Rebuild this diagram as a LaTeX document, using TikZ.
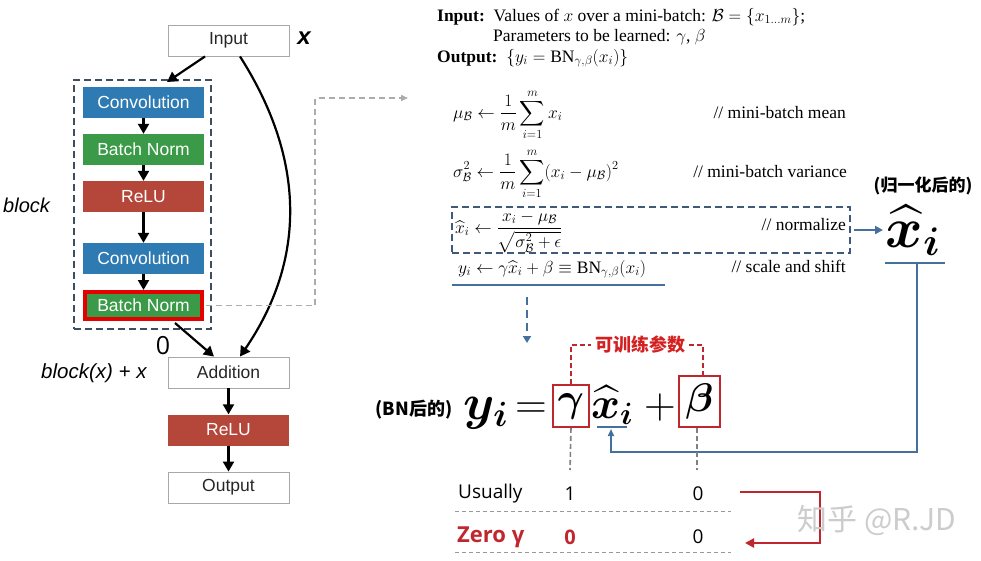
\documentclass[tikz,border=0pt]{standalone}
\usepackage{fix-cm}
\usepackage{fontspec}
\usepackage{amsmath,amssymb,bm}
\setmainfont{Liberation Serif}
\newfontfamily\hv{Liberation Sans}
\newfontfamily\osans{Open Sans}
\newfontfamily\cjk{Noto Sans CJK SC}
\usetikzlibrary{arrows.meta,calc}
\definecolor{convblue}{HTML}{2E7BB4}
\definecolor{bngreen}{HTML}{3A9A47}
\definecolor{relured}{HTML}{B4463A}
\definecolor{slate}{HTML}{3D4F5E}
\definecolor{steel}{HTML}{44709D}
\definecolor{normblue}{HTML}{3F5A78}
\definecolor{dkred}{HTML}{C0262D}
\definecolor{brred}{HTML}{D42020}
\definecolor{boxgray}{HTML}{A8A8A8}
\tikzset{
  wbox/.style={draw=boxgray, line width=0.9pt, minimum width=121pt, minimum height=31pt, inner sep=0pt, font=\hv\fontsize{17.5}{18}\selectfont, text=black!85},
  cbox/.style={fill=#1, minimum width=121pt, minimum height=31pt, inner sep=0pt, font=\hv\fontsize{17.5}{18}\selectfont, text=white},
  karr/.style={-{Triangle[length=10pt,width=11pt]}, line width=2.2pt, black},
  alg/.style={inner sep=0pt, font=\fontsize{17.5}{20}\selectfont},
  big/.style={inner sep=0pt, font=\fontsize{44}{46}\selectfont},
  rbox/.style={draw=dkred, line width=1.6pt, inner sep=0pt, font=\fontsize{40}{42}\selectfont},
  sarr/.style={steel, line width=2pt},
  gdash/.style={gray, line width=1.6pt, dash pattern=on 5pt off 3pt},
  rdash/.style={dkred, line width=1.6pt, dash pattern=on 5pt off 3pt},
  tdash/.style={gray!80, line width=0.8pt, dash pattern=on 4pt off 3pt},
  sanslab/.style={inner sep=0pt, font=\osans\fontsize{19}{20}\selectfont},
}
\begin{document}
\begin{tikzpicture}[x=1pt,y=-1pt]
\useasboundingbox (0,0) rectangle (981,560);

% ---------------- left network ----------------
\node[wbox] (input) at (228.5,40.5) {Input};
\node[inner sep=0pt, font=\hv\bfseries\itshape\fontsize{24}{24}\selectfont] (xlab) at (304,38) {x};

\node[draw=slate, line width=1.8pt, dash pattern=on 7pt off 4pt, minimum width=137pt, minimum height=249pt, inner sep=0pt] (blk) at (142.5,204.5) {};
\node[cbox=convblue] (conv1) at (143.5,102.5) {Convolution};
\node[cbox=bngreen] (bn1) at (143.5,149.5) {Batch Norm};
\node[cbox=relured] (relu1) at (143.5,196.5) {ReLU};
\node[cbox=convblue] (conv2) at (143.5,258.5) {Convolution};
\node[cbox=bngreen, draw=red!90!black, line width=4pt, minimum width=117pt, minimum height=27pt] (bn2) at (143.5,305.5) {Batch Norm};

\node[wbox] (add) at (228.5,372.5) {Addition};
\node[cbox=relured] (relu2) at (228.5,430) {ReLU};
\node[wbox] (output) at (228.5,487.5) {Output};

\node[inner sep=0pt, font=\hv\itshape\fontsize{20}{20}\selectfont, anchor=west] (blocklab) at (3,205) {block};
\node[inner sep=0pt, font=\hv\itshape\fontsize{20.5}{21}\selectfont, anchor=west] (bxlab) at (41,373) {block(x) + x};
\node[inner sep=0pt, font=\osans\fontsize{25}{25}\selectfont] (zero) at (163,346) {0};

\coordinate (btop) at (167,82);
\draw[karr] ($(input.south)+(-23.5,0)$) -- (btop);
\draw[karr] (conv1) -- (bn1);
\draw[karr] (bn1) -- (relu1);
\draw[karr] (relu1) -- (conv2);
\draw[karr] (conv2) -- (bn2);
\draw[karr] ($(bn2.south)+(31.5,2)$) -- ($(add.north)+(-14.5,0)$);
\draw[karr] ($(input.south)+(11.5,0)$) .. controls (306,160) and (306,260) .. ($(add.north)+(11.5,0)$);
\draw[karr] (add) -- (relu2);
\draw[karr] (relu2) -- (output);

% gray dashed link to algorithm
\coordinate (algin) at (408,98);
\draw[gray!65, line width=1.5pt, dash pattern=on 6pt off 4pt, -{Triangle[length=7pt,width=6pt]}] ($(bn2.east)+(2,0)$) -- (315,305.5) -- (315,98) -- (algin);

% ---------------- algorithm ----------------
\node[alg, anchor=base west] (inl) at (437,21) {\textbf{Input:}\ \ Values of $x$ over a mini-batch: $\mathcal{B}=\{x_{1\ldots m}\}$;};
\node[alg, anchor=base west] (par) at (493,41) {Parameters to be learned: $\gamma$, $\beta$};
\node[alg, anchor=base west] (outl) at (437,62) {\textbf{Output:}\ \ $\{y_i=\mathrm{BN}_{\gamma,\beta}(x_i)\}$};

\node[alg, anchor=base west] (mu) at (453,118) {$\displaystyle \mu_{\mathcal{B}}\leftarrow\frac{1}{m}\sum_{i=1}^{m}x_i$};
\node[alg, anchor=base east] (c1) at (846,118) {// mini-batch mean};
\node[alg, anchor=base west] (sig) at (453,177) {$\displaystyle \sigma_{\mathcal{B}}^2\leftarrow\frac{1}{m}\sum_{i=1}^{m}(x_i-\mu_{\mathcal{B}})^2$};
\node[alg, anchor=base east] (c2) at (847,177) {// mini-batch variance};
\node[alg, anchor=base west] (nor) at (455,233) {$\displaystyle \widehat{x}_i\leftarrow\frac{x_i-\mu_{\mathcal{B}}}{\sqrt{\sigma_{\mathcal{B}}^2+\epsilon}}$};
\node[alg, anchor=base east] (c3) at (846,230) {// normalize};
\node[alg, anchor=base west] (ysc) at (458,273) {$y_i\leftarrow\gamma\widehat{x}_i+\beta\equiv\mathrm{BN}_{\gamma,\beta}(x_i)$};
\node[alg, anchor=base east] (c4) at (846,272) {// scale and shift};

\node[draw=normblue, line width=1.6pt, dash pattern=on 7pt off 4pt, minimum width=398pt, minimum height=46pt, inner sep=0pt] (nbox) at (651,230) {};
\coordinate (ul1) at (452,285);
\coordinate (ul2) at (665,285);
\draw[sarr] (ul1) -- (ul2);
\coordinate (dtop) at (527,297);
\coordinate (dbot) at (527,343);
\draw[sarr, dash pattern=on 8pt off 5pt, -{Triangle[length=7pt,width=8pt]}] (dtop) -- (dbot);

% ---------------- normalized x ----------------
\node[inner sep=0pt, font=\fontsize{57}{57}\selectfont, anchor=base] (xh) at (913,247) {$\bm{\widehat{x}_i}$};
\node[inner sep=0pt, font=\cjk\bfseries\fontsize{17}{17}\selectfont] (normlab) at (923,186) {(归一化后的)};
\coordinate (xa) at (883,230);
\draw[sarr, -{Triangle[length=8pt,width=8pt]}] (nbox.east) ++(3,0) -- (xa);
\coordinate (xul1) at (885,263);
\coordinate (xul2) at (945,263);
\coordinate (xdrop) at (917,263);
\draw[sarr] (xul1) -- (xul2);

% ---------------- big formula ----------------
\node[inner sep=0pt, font=\cjk\bfseries\fontsize{18}{18}\selectfont] (bnlab) at (414,410) {(BN后的)};
\node[big, anchor=base, font=\fontsize{50}{50}\selectfont] (yi) at (486,419) {$\bm{y_i}$};
\node[big, anchor=base] (eq) at (531,418) {$=$};
\node[rbox, minimum width=36pt, minimum height=42pt] (gam) at (571,406) {$\bm{\gamma}$};
\node[big, anchor=base] (xh2) at (612,418) {$\bm{\widehat{x}_i}$};
\node[big, anchor=base] (plus) at (660,418) {$+$};
\node[rbox, minimum width=41pt, minimum height=51pt] (bet) at (699.5,401.5) {$\bm{\beta}$};

\coordinate (sul1) at (597,427);
\coordinate (sul2) at (627,427);
\draw[sarr, line width=1.6pt] (sul1) -- (sul2);
\coordinate (atip) at (611,429);
\draw[sarr, line width=1.6pt, -{Triangle[length=7pt,width=6pt]}] (xdrop) -- (917,452) -- (611,452) -- (atip);

\node[inner sep=4pt, text=brred, font=\cjk\bfseries\fontsize{18}{18}\selectfont] (tr) at (640,345) {可训练参数};
\draw[rdash] (gam.north) |- (tr.west);
\draw[rdash] (tr.east) -| ($(bet.north)+(3.5,0)$);

\coordinate (g1) at (570,470);
\coordinate (b1) at (697,470);
\draw[gdash] (gam.south) -- (g1);
\draw[gdash] ($(bet.south)+(-2.5,0)$) -- (b1);

% ---------------- table ----------------
\node[sanslab, anchor=west] (usu) at (458,494) {Usually};
\node[sanslab] (u1) at (570,494) {1};
\node[sanslab] (u0) at (698,494) {0};
\node[sanslab, anchor=west, text=dkred, font=\osans\bfseries\fontsize{22}{22}\selectfont] (zg) at (457,537) {Zero γ};
\node[sanslab, text=dkred, font=\osans\bfseries\fontsize{20}{22}\selectfont] (z1) at (570,537) {0};
\node[sanslab] (z0) at (698,537) {0};
\coordinate (l1a) at (455,511);
\coordinate (l1b) at (731,511);
\coordinate (l2a) at (455,552);
\coordinate (l2b) at (731,552);
\draw[tdash] (l1a) -- (l1b);
\draw[tdash] (l2a) -- (l2b);

\coordinate (ra) at (740,492);
\coordinate (rb) at (745,543);
\draw[dkred, line width=2.5pt, -{Triangle[length=9pt,width=9pt]}] (ra) -- (820,492) -- (820,543) -- (rb);

\node[inner sep=0pt, text=gray!40, font=\cjk\fontsize{30}{30}\selectfont] (wm) at (877,520) {知乎 @R.JD};
\end{tikzpicture}
\end{document}
